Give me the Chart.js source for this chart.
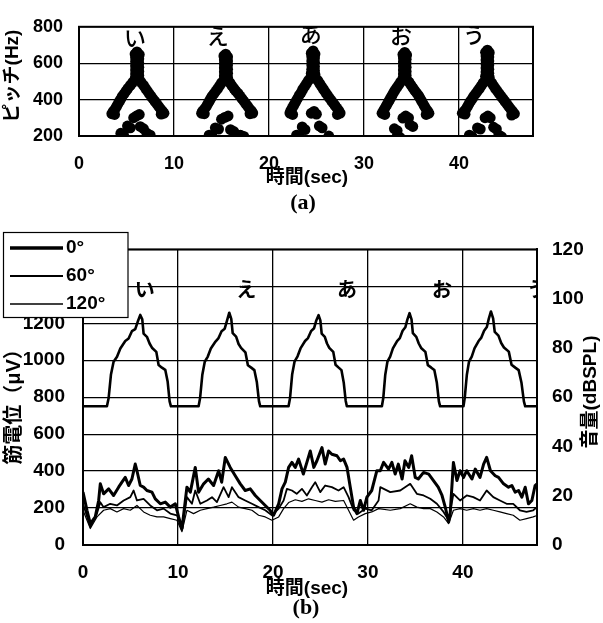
<!DOCTYPE html>
<html>
<head>
<meta charset="utf-8">
<script src="https://cdn.jsdelivr.net/npm/chart.js@4.4.0/dist/chart.umd.min.js"></script>
<style>
  html, body { margin: 0; padding: 0; background: #fff; }
  #wrap { position: relative; width: 603px; height: 623px; overflow: hidden; background: #fff; }
  canvas { position: absolute; left: 0; }
  #pitch { top: 0; }
  #emg { top: 220px; }
</style>
</head>
<body>
<div id="wrap">
  <canvas id="pitch" width="603" height="220"></canvas>
  <canvas id="emg" width="603" height="403"></canvas>
</div>
<script>
// ---------- (a) pitch track, one cloud of [time s, pitch Hz] per vowel ----------
const vowels = ['い', 'え', 'あ', 'お', 'う'];

const pitchI = [
  [6.1,662],[5.9,650],[6.35,648],[5.95,630],[6.3,624],[5.95,608],[6.3,600],[5.95,585],[6.3,578],
  [5.95,562],[6.3,555],[5.95,540],[6.3,532],[5.9,515],[6.35,510],
  [5.65,495],[5.4,478],[5.15,462],[4.95,447],[4.75,432],[4.55,418],[4.4,403],[4.25,390],[4.1,376],
  [3.95,362],[3.8,348],[3.6,335],[3.45,322],[3.75,318],
  [6.55,495],[6.8,478],[7.0,462],[7.2,447],[7.4,432],[7.6,418],[7.8,403],[8.0,390],[8.2,376],
  [8.4,362],[8.6,348],[8.8,335],[8.95,325],[8.65,320],
  [5.75,300],[6.05,310],[6.35,318],[5.1,255],[5.4,245],[6.45,252],[6.8,240],[4.4,215],[4.7,205],[7.15,215],[7.5,205]
];
const pitchE = [
  [15.45,650],[15.25,640],[15.65,635],[15.3,618],[15.65,612],[15.3,596],[15.65,590],[15.3,574],[15.65,567],
  [15.3,552],[15.65,545],[15.3,530],[15.65,522],[15.25,508],[15.7,505],
  [15.0,492],[14.8,476],[14.6,460],[14.4,446],[14.2,432],[14.0,418],[13.85,404],[13.7,390],[13.55,376],
  [13.4,362],[13.2,348],[13.0,336],[12.9,325],[13.2,322],
  [15.9,492],[16.1,476],[16.3,462],[16.5,448],[16.75,434],[16.95,420],[17.15,406],[17.35,392],[17.55,378],
  [17.75,364],[17.95,350],[18.15,338],[18.3,326],[18.0,322],
  [15.0,292],[15.35,302],[15.7,310],[14.35,245],[14.7,238],[15.95,235],[16.3,225],[13.7,205],[14.0,198],[17.0,205],[17.35,198]
];
const pitchA = [
  [24.65,668],[24.45,655],[24.85,650],[24.5,635],[24.8,628],[24.5,612],[24.8,605],[24.5,590],[24.8,582],
  [24.5,567],[24.8,560],[24.45,545],[24.85,538],[24.4,522],[24.9,518],
  [24.15,505],[23.95,488],[23.75,472],[23.55,456],[23.4,440],[23.2,425],[23.05,410],[22.9,396],[22.75,382],
  [22.6,368],[22.45,354],[22.3,340],[22.2,326],[22.5,318],
  [25.15,505],[25.35,488],[25.55,472],[25.75,456],[25.95,440],[26.15,425],[26.35,410],[26.55,396],[26.75,382],
  [26.95,368],[27.15,354],[27.35,340],[27.5,326],[27.2,318],
  [24.45,325],[24.75,335],[25.0,320],[23.5,250],[23.8,235],[25.3,255],[25.6,245],[22.9,205],[23.2,195],[26.3,200]
];
const pitchO = [
  [34.3,660],[34.1,648],[34.5,645],[34.15,628],[34.45,622],[34.15,606],[34.45,600],[34.15,584],[34.45,578],
  [34.15,562],[34.45,555],[34.15,540],[34.45,532],[34.1,516],[34.5,510],
  [33.85,496],[33.65,480],[33.45,465],[33.25,450],[33.1,436],[32.95,422],[32.8,408],[32.65,394],[32.5,380],
  [32.35,366],[32.2,352],[32.05,338],[31.9,325],[32.2,318],
  [34.75,496],[34.95,480],[35.15,465],[35.35,450],[35.55,436],[35.75,422],[35.9,408],[36.05,394],[36.2,380],
  [36.35,366],[36.5,352],[36.7,338],[36.85,325],[36.55,318],
  [34.1,298],[34.4,310],[34.7,300],[33.2,240],[33.5,230],[34.85,262],[35.15,252],[33.5,200],[33.8,192]
];
const pitchU = [
  [43.0,672],[42.8,660],[43.2,658],[42.85,640],[43.15,634],[42.85,618],[43.15,612],[42.85,596],[43.15,590],
  [42.85,574],[43.15,567],[42.85,552],[43.15,545],[42.8,528],[43.2,522],[42.8,508],[43.2,505],
  [42.55,492],[42.35,476],[42.15,460],[41.95,446],[41.75,432],[41.55,418],[41.4,404],[41.2,390],[41.05,376],
  [40.9,362],[40.75,348],[40.55,336],[40.35,325],[40.65,320],
  [43.45,492],[43.65,476],[43.85,460],[44.05,446],[44.25,432],[44.45,418],[44.65,404],[44.85,390],[45.05,376],
  [45.25,362],[45.45,348],[45.65,335],[45.85,322],[45.55,315],
  [42.75,300],[43.05,310],[43.3,300],[41.95,245],[42.25,238],[43.65,248],[43.95,238],[41.1,205],[41.4,196],[44.2,205],[44.5,196]
];
const pitchClouds = [pitchI, pitchE, pitchA, pitchO, pitchU];

// vowel captions placed in data coordinates
const vowelTimeA = [5.9, 14.6, 24.4, 33.9, 41.6];
const vowelHzA   = [742, 752, 765, 752, 757];
const vowelTimeB = [6.5, 17.2, 27.8, 37.8, 47.8];
const vowelUvB   = [1385, 1385, 1385, 1385, 1385];

// axis ticks
const timeTicks  = [0, 10, 20, 30, 40];
const pitchTicks = [200, 400, 600, 800];
const uvTicks    = [0, 200, 400, 600, 800, 1000, 1200, 1400, 1600];
const dbTicks    = [0, 20, 40, 60, 80, 100, 120];

// ---------- (b) sound level [time s, dBSPL] ----------
const soundLevel = [
  [0,56.3],[2.52,56.3],[2.7,59.7],[2.94,69.1],[3.22,74.4],[3.58,76.4],[3.93,79.8],[4.45,82.8],[4.8,83.8],
  [5.15,86.8],[5.5,87.6],[5.75,90.5],[6.03,93.4],[6.24,91.6],[6.38,85.8],[6.73,84.5],[7.01,81.8],[7.26,80.1],
  [7.72,78.4],[7.96,73.1],[8.31,72],[8.66,71.1],[8.91,66.4],[9.12,58.3],[9.26,56.3],
  [12.17,56.3],[12.33,59.7],[12.56,69.0],[12.82,74.4],[13.14,76.5],[13.46,79.8],[13.95,82.6],[14.27,84.0],
  [14.59,86.8],[14.92,87.8],[15.14,90.8],[15.4,94.3],[15.61,91.8],[15.76,86.0],[16.12,84.6],[16.38,81.6],
  [16.64,80.0],[17.1,78.2],[17.36,73.0],[17.71,72.0],[18.04,71.0],[18.3,66.2],[18.53,58.3],[18.66,56.3],
  [21.64,56.3],[21.8,59.7],[22.02,69.2],[22.27,74.4],[22.59,76.6],[22.9,79.8],[23.38,82.8],[23.69,84.0],
  [24.01,86.8],[24.33,88.0],[24.55,91.0],[24.8,93.3],[24.99,91.2],[25.13,85.8],[25.46,84.5],[25.69,81.8],
  [25.93,80.0],[26.35,78.4],[26.59,73.2],[26.92,72.0],[27.21,71.0],[27.45,66.0],[27.66,58.5],[27.78,56.3],
  [31.47,56.3],[31.62,59.8],[31.82,69.0],[32.05,74.4],[32.34,76.5],[32.63,79.8],[33.07,82.8],[33.36,84.0],
  [33.65,87.0],[33.94,88.4],[34.15,91.5],[34.38,94.1],[34.59,91.6],[34.73,86.0],[35.09,84.5],[35.35,81.8],
  [35.6,80.0],[36.05,78.4],[36.31,73.0],[36.67,72.0],[36.99,71.0],[37.25,66.0],[37.47,58.3],[37.6,56.3],
  [40.06,56.3],[40.2,60.0],[40.41,69.0],[40.64,74.4],[40.93,76.5],[41.22,79.8],[41.65,82.8],[41.94,84.2],
  [42.23,87.0],[42.52,88.5],[42.72,91.8],[42.95,94.8],[43.18,92.0],[43.35,86.5],[43.74,85.0],[44.03,82.0],
  [44.32,80.2],[44.83,78.5],[45.12,73.2],[45.51,72.0],[45.87,71.0],[46.16,66.0],[46.42,58.3],[46.56,56.3],
  [47.8,56.3]
];

// ---------- (b) EMG amplitude [time s, µV] per electrode angle ----------
const seriesLabels = ['0°', '60°', '120°'];

const emg0 = [
  [0,286],[0.42,188],[0.77,116],[1.29,152],[1.65,241],[1.82,331],[2.17,277],[2.7,304],[3.22,268],[3.75,313],
  [4.1,340],[4.45,366],[4.8,322],[5.15,357],[5.5,438],[5.68,402],[6.03,322],[6.38,313],[6.73,295],[7.26,286],
  [7.61,250],[8.14,223],[8.66,232],[9.19,205],[9.72,223],[10.07,152],[10.42,89],[10.94,313],[11.3,286],
  [11.82,420],[12.17,286],[12.7,331],[13.2,357],[13.75,322],[14.28,402],[14.6,340],[14.98,474],[15.5,420],
  [16.03,375],[16.56,331],[17.08,295],[17.61,304],[18.14,268],[18.66,241],[19.19,214],[19.7,188],[20.07,161],
  [20.6,223],[20.95,304],[21.3,340],[21.65,420],[22.0,447],[22.35,420],[22.7,465],[23.2,384],[23.57,447],
  [23.93,509],[24.3,420],[24.63,456],[25.16,527],[25.5,438],[25.86,509],[26.2,491],[26.74,483],[27.1,456],
  [27.44,465],[27.8,420],[28.14,313],[28.49,205],[28.84,170],[29.2,241],[29.54,188],[29.89,259],[30.4,295],
  [30.94,402],[31.3,402],[31.65,447],[32.17,411],[32.52,447],[32.87,384],[33.2,438],[33.6,357],[33.9,456],
  [34.3,420],[34.6,483],[34.98,366],[35.3,357],[35.86,393],[36.4,384],[36.9,349],[37.4,313],[37.8,268],
  [38.14,205],[38.5,125],[38.66,170],[39.0,447],[39.37,349],[39.7,402],[40.07,366],[40.4,402],[40.95,357],
  [41.3,411],[41.8,366],[42.18,438],[42.5,474],[42.9,402],[43.4,375],[43.75,366],[44.28,331],[44.8,313],
  [45.15,322],[45.5,286],[45.86,295],[46.2,259],[46.56,313],[46.9,223],[47.26,241],[47.6,322],[47.8,331]
];
const emg60 = [
  [0,223],[0.77,98],[1.47,170],[1.82,232],[2.17,205],[2.87,223],[3.57,214],[4.28,241],[4.98,259],[5.33,295],
  [5.68,241],[6.38,250],[7.08,214],[7.79,188],[8.49,197],[9.19,170],[9.89,161],[10.42,81],[10.94,259],
  [11.47,223],[11.82,295],[12.35,223],[13.05,241],[13.58,259],[14.1,232],[14.8,313],[15.33,259],[15.68,313],
  [16.38,259],[17.08,241],[17.79,223],[18.49,205],[19.19,188],[19.89,161],[20.6,197],[21.12,241],[21.47,304],
  [22.0,295],[22.5,277],[23.05,304],[23.57,268],[24.1,313],[24.45,340],[24.98,286],[25.5,322],[26.2,313],
  [26.9,295],[27.44,313],[27.96,259],[28.49,188],[29.0,170],[29.72,197],[30.4,188],[31.12,241],[31.3,313],
  [32.35,286],[33.4,295],[34.45,331],[35.15,277],[35.86,268],[36.56,250],[37.26,223],[37.96,179],[38.5,134],
  [39.0,277],[39.7,241],[40.4,268],[41.1,259],[41.8,241],[42.5,295],[43.2,259],[43.9,241],[44.6,223],
  [45.3,223],[46.0,188],[46.7,179],[47.4,188],[47.8,205]
];
const emg120 = [
  [0,188],[0.77,89],[1.47,152],[2.17,188],[2.87,197],[3.57,179],[4.28,197],[4.98,188],[5.68,214],[6.38,179],
  [7.08,161],[7.79,152],[8.49,152],[9.19,143],[9.89,134],[10.42,72],[10.94,188],[11.64,170],[12.35,188],
  [13.05,197],[13.75,205],[14.45,214],[15.15,223],[15.68,232],[16.38,205],[17.08,197],[17.79,188],[18.49,161],
  [19.19,152],[19.89,134],[20.6,152],[21.12,197],[21.65,230],[22.35,245],[23.05,236],[23.75,250],[24.45,241],
  [25.16,232],[25.86,245],[26.56,236],[27.44,241],[27.96,188],[28.49,134],[29.0,152],[29.72,170],[30.4,179],
  [31.12,197],[32.35,188],[33.4,197],[34.45,223],[35.15,205],[35.86,197],[36.56,197],[37.26,179],[37.96,152],
  [38.5,116],[39.0,188],[39.7,197],[40.4,188],[41.1,197],[41.8,188],[42.5,197],[43.2,188],[43.9,179],
  [44.6,170],[45.3,161],[46.0,134],[46.7,143],[47.4,152],[47.8,160]
];
const emgSeries = [emg0, emg60, emg120];

// ---------- shared styling ----------
const SANS = "'Liberation Sans', Arial, 'Noto Sans CJK JP', sans-serif";
const CJK  = "'Noto Sans CJK JP', sans-serif";
const toXY = arr => arr.map(([x, y]) => ({ x, y }));
const gridStyle = { color: '#000', lineWidth: 1.3, drawTicks: false };
const borderStyle = { color: '#000', width: 2 };
const fixedTicks = values => scale => { scale.ticks = values.map(v => ({ value: v })); };
const plainLabel = v => String(v);

function drawText(ctx, text, x, y, font, rot, align) {
  ctx.save();
  ctx.translate(x, y);
  if (rot) ctx.rotate(rot);
  ctx.font = font;
  ctx.fillStyle = '#000';
  ctx.textAlign = align || 'center';
  ctx.textBaseline = 'middle';
  ctx.fillText(text, 0, 0);
  ctx.restore();
}

// solid frame round the plotting area
const framePlugin = {
  id: 'frame',
  afterDatasetsDraw(chart) {
    const { ctx, chartArea: a } = chart;
    ctx.save();
    ctx.strokeStyle = '#000';
    ctx.lineWidth = 2;
    ctx.strokeRect(a.left, a.top, a.right - a.left, a.bottom - a.top);
    ctx.restore();
  }
};

// vowel names over each utterance, clipped to the plot
function vowelPlugin(times, values, yId, font) {
  return {
    id: 'vowels',
    afterDatasetsDraw(chart) {
      const { ctx, chartArea: a, scales } = chart;
      ctx.save();
      ctx.beginPath();
      ctx.rect(a.left, a.top, a.right - a.left, a.bottom - a.top);
      ctx.clip();
      vowels.forEach((v, i) => {
        drawText(ctx, v, scales.x.getPixelForValue(times[i]), scales[yId].getPixelForValue(values[i]), font);
      });
      ctx.restore();
    }
  };
}

// ---------- chart (a) ----------
new Chart(document.getElementById('pitch'), {
  type: 'scatter',
  data: {
    datasets: pitchClouds.map((cloud, i) => ({
      label: vowels[i],
      data: toXY(cloud),
      backgroundColor: '#000',
      borderColor: '#000',
      borderWidth: 0,
      pointRadius: 5.4,
      clip: 0
    }))
  },
  options: {
    responsive: false,
    animation: false,
    events: [],
    layout: { padding: { left: 0, right: 70, top: 16, bottom: 0 } },
    plugins: { legend: { display: false }, tooltip: { enabled: false } },
    scales: {
      x: {
        type: 'linear', min: 0, max: 47.8,
        afterBuildTicks: fixedTicks(timeTicks),
        afterFit(s) { s.height = 84; },
        ticks: { padding: 17, maxRotation: 0, color: '#000', callback: plainLabel,
                 font: { family: SANS, size: 18, weight: 'bold' } },
        grid: gridStyle, border: borderStyle
      },
      y: {
        min: 200, max: 800,
        afterBuildTicks: fixedTicks(pitchTicks),
        afterFit(s) { s.width = 79; },
        ticks: { padding: 16, color: '#000', callback: plainLabel,
                 font: { family: SANS, size: 18, weight: 'bold' } },
        grid: gridStyle, border: borderStyle
      }
    }
  },
  plugins: [
    framePlugin,
    vowelPlugin(vowelTimeA, vowelHzA, 'y', `500 22px ${CJK}`),
    {
      id: 'labelsA',
      afterDraw(chart) {
        const ctx = chart.ctx;
        drawText(ctx, 'ピッチ(Hz)', 13, 76, `bold 19px ${SANS}`, -Math.PI / 2);
        drawText(ctx, '時間(sec)', 307, 178, `bold 19px ${SANS}`);
        drawText(ctx, '(a)', 303, 203, `bold 22px 'Liberation Serif', serif`);
      }
    }
  ]
});

// ---------- chart (b) ----------
const lineWidths = [3, 1.8, 1.2];
new Chart(document.getElementById('emg'), {
  type: 'line',
  data: {
    datasets: [
      {
        label: '音量',
        data: toXY(soundLevel),
        yAxisID: 'y2',
        borderColor: '#000',
        borderWidth: 2.6,
        pointRadius: 0,
        tension: 0,
        borderJoinStyle: 'round'
      },
      ...emgSeries.map((s, i) => ({
        label: seriesLabels[i],
        data: toXY(s),
        yAxisID: 'y',
        borderColor: '#000',
        borderWidth: lineWidths[i],
        pointRadius: 0,
        tension: 0,
        borderJoinStyle: 'round'
      }))
    ]
  },
  options: {
    responsive: false,
    animation: false,
    events: [],
    layout: { padding: { left: 0, right: 0, top: 27, bottom: 0 } },
    plugins: { legend: { display: false }, tooltip: { enabled: false } },
    scales: {
      x: {
        type: 'linear', min: 0, max: 47.8,
        afterBuildTicks: fixedTicks(timeTicks),
        afterFit(s) { s.height = 78; },
        ticks: { padding: 16, maxRotation: 0, color: '#000', callback: plainLabel,
                 font: { family: SANS, size: 19, weight: 'bold' } },
        grid: gridStyle, border: borderStyle
      },
      y: {
        position: 'left', min: 0, max: 1600,
        afterBuildTicks: fixedTicks(uvTicks),
        afterFit(s) { s.width = 83; },
        ticks: { padding: 18, color: '#000', callback: plainLabel,
                 font: { family: SANS, size: 19, weight: 'bold' } },
        grid: gridStyle, border: borderStyle
      },
      y2: {
        position: 'right', min: 0, max: 120,
        afterBuildTicks: fixedTicks(dbTicks),
        afterFit(s) { s.width = 66; },
        ticks: { padding: 15, color: '#000', callback: plainLabel,
                 font: { family: SANS, size: 19, weight: 'bold' } },
        grid: { drawOnChartArea: false, drawTicks: false },
        border: borderStyle
      }
    }
  },
  plugins: [
    framePlugin,
    vowelPlugin(vowelTimeB, vowelUvB, 'y', `bold 20px ${CJK}`),
    {
      id: 'labelsB',
      afterDraw(chart) {
        const ctx = chart.ctx;
        drawText(ctx, '筋電位（μV）', 14, 182, `bold 20px ${SANS}`, -Math.PI / 2);
        drawText(ctx, '音量(dBSPL)', 591, 172, `bold 19px ${SANS}`, -Math.PI / 2);
        drawText(ctx, '時間(sec)', 307, 369, `bold 19px ${SANS}`);
        drawText(ctx, '(b)', 306, 388, `bold 22px 'Liberation Serif', serif`);

        // legend box over the upper-left corner
        ctx.save();
        ctx.fillStyle = '#fff';
        ctx.fillRect(3.5, 12.5, 124.5, 85);
        ctx.strokeStyle = '#000';
        ctx.lineWidth = 1.2;
        ctx.strokeRect(3.5, 12.5, 124.5, 85);
        const eds = chart.data.datasets.filter(d => d.yAxisID === 'y');
        eds.forEach((d, i) => {
          const y = 28 + 28 * i;
          ctx.beginPath();
          ctx.strokeStyle = d.borderColor;
          ctx.lineWidth = d.borderWidth + 0.3;
          ctx.moveTo(10, y);
          ctx.lineTo(63, y);
          ctx.stroke();
          drawText(ctx, d.label, 66, y, `bold 19px ${SANS}`, 0, 'left');
        });
        ctx.restore();
      }
    }
  ]
});
</script>
</body>
</html>
